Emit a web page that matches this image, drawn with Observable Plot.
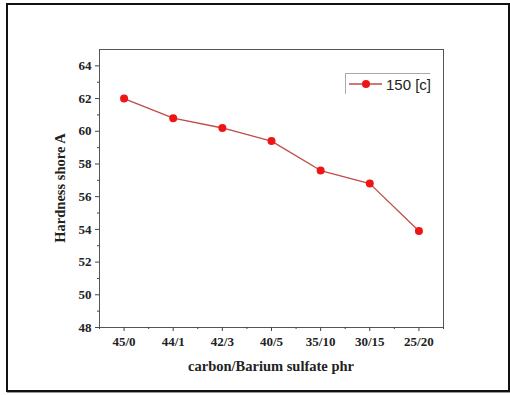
<!DOCTYPE html>
<html>
<head>
<meta charset="utf-8">
<script src="https://cdn.jsdelivr.net/npm/d3@7"></script>
<script src="https://cdn.jsdelivr.net/npm/@observablehq/plot@0.6"></script>
<style>
  html, body { margin: 0; padding: 0; background: #fff; }
  #wrap { position: relative; width: 510px; height: 395px; overflow: hidden; }
  #border { position: absolute; left: 6px; top: 3px; width: 500px; height: 385px; border: 2px solid #111; box-shadow: 1px 1px 0 #999; pointer-events: none; }
  #legend { position: absolute; left: 345px; top: 73px; width: 84px; height: 20px;
            border-left: 1px solid #aaa; border-top: 1px solid #aaa;
            font-family: "Liberation Sans", Arial, sans-serif; font-size: 15px; color: #222;
            display: flex; align-items: center; white-space: nowrap; }
  #legend svg { display: block; flex: none; }
  #legend span { margin-left: 3px; line-height: 1; }
  #chart svg, #chart svg g, #chart svg text { font-family: "Liberation Serif", "Times New Roman", serif !important; }
  #chart svg text { font-size: 13px !important; font-weight: bold !important; }
  #chart svg text.title { font-size: 14.5px !important; }
</style>
</head>
<body>
<div id="wrap">
  <div id="chart"></div>
  <div id="legend"></div>
  <div id="border"></div>
</div>
<script>
const categories = ["45/0", "44/1", "42/3", "40/5", "35/10", "30/15", "25/20"];
const hardness = [62.0, 60.8, 60.2, 59.4, 57.6, 56.8, 53.9];
const seriesName = "150 [c]";
const yTicks = [48, 50, 52, 54, 56, 58, 60, 62, 64];
const yMinorTicks = [49, 51, 53, 55, 57, 59, 61, 63];
const xLabel = "carbon/Barium sulfate phr";
const yLabel = "Hardness shore A";

const lineColor = "#c24a48";
const dotColor = "#f01515";

const data = categories.map((c, i) => ({i, c, v: hardness[i]}));
const xMinor = d3.range(-0.5, categories.length, 1);
const xMajor = d3.range(0, categories.length);

const chart = Plot.plot({
  width: 510,
  height: 395,
  marginLeft: 99,
  marginRight: 67,
  marginTop: 49,
  marginBottom: 68,
  style: {background: "transparent"},
  x: {type: "linear", domain: [-0.5, categories.length - 0.5]},
  y: {domain: [48, 65]},
  marks: [
    Plot.frame({stroke: "#555", strokeWidth: 1}),
    Plot.axisY({ticks: yTicks, tickSize: 4, tickPadding: 4, label: null, fill: "#222", stroke: "#444"}),
    Plot.axisY({ticks: yMinorTicks, tickSize: 2, text: null, label: null, stroke: "#444"}),
    Plot.axisX({ticks: xMajor, tickSize: 4, tickPadding: 5, label: null,
      tickFormat: i => categories[i], fill: "#222", stroke: "#444"}),
    Plot.axisX({ticks: xMinor, tickSize: 2, text: null, label: null, stroke: "#444"}),
    Plot.line(data, {x: "i", y: "v", stroke: lineColor, strokeWidth: 1.3}),
    Plot.dot(data, {x: "i", y: "v", r: 4, fill: dotColor, stroke: "none"})
  ]
});
document.getElementById("chart").appendChild(chart);

const svg = d3.select(chart);
svg.append("text").attr("class", "title")
  .attr("x", (99 + 443) / 2).attr("y", 371)
  .attr("text-anchor", "middle").attr("fill", "#222")
  .text(xLabel);
svg.append("text").attr("class", "title")
  .attr("transform", `translate(65, ${(49 + 327) / 2}) rotate(-90)`)
  .attr("text-anchor", "middle").attr("fill", "#222")
  .text(yLabel);

// legend
const leg = d3.select("#legend");
const ls = leg.append("svg").attr("width", 37).attr("height", 20);
ls.append("line").attr("x1", 3).attr("x2", 36).attr("y1", 10).attr("y2", 10).attr("stroke", lineColor).attr("stroke-width", 1.3);
ls.append("circle").attr("cx", 20).attr("cy", 10).attr("r", 4).attr("fill", dotColor);
leg.append("span").text(seriesName);
</script>
</body>
</html>
